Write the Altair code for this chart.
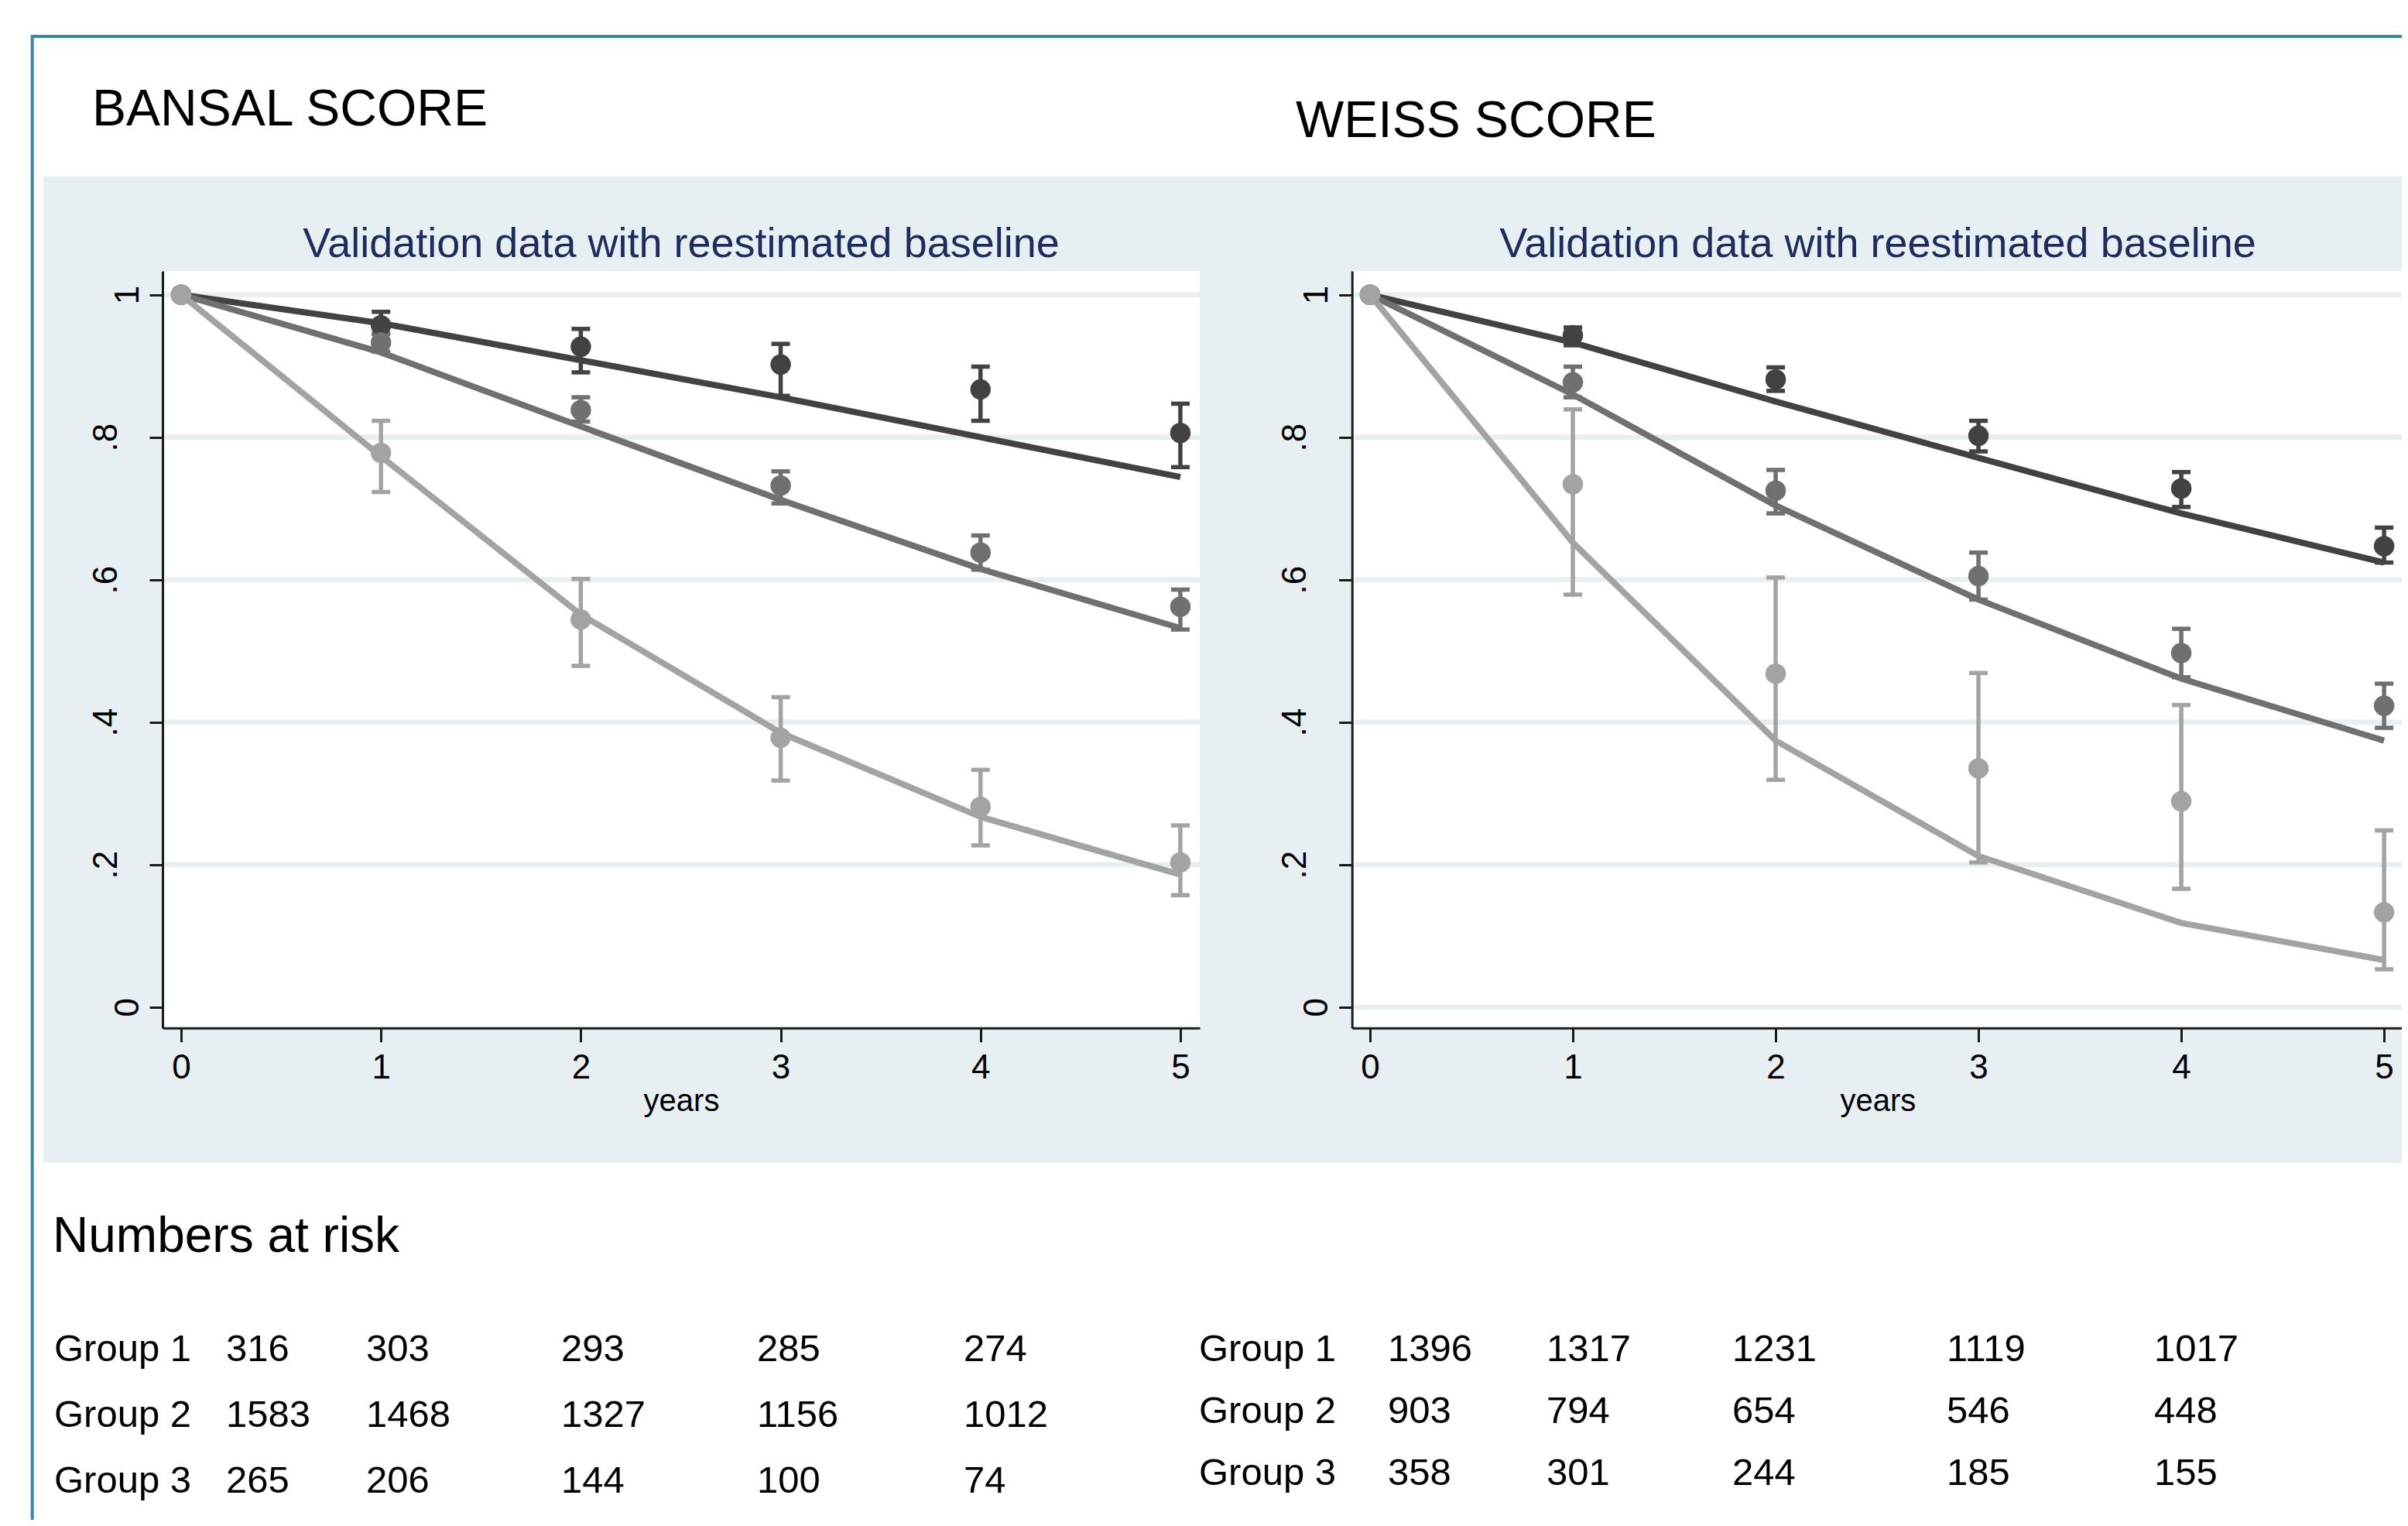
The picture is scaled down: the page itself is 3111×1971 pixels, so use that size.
import altair as alt
import pandas as pd

FONT = "Liberation Sans"

# ---------------- data ----------------
years = [0, 1, 2, 3, 4, 5]
groups = ["Group 1", "Group 2", "Group 3"]

# BANSAL SCORE: predicted survival (lines)
bansal_pred_g1 = [1.0, 0.960, 0.908, 0.856, 0.800, 0.744]
bansal_pred_g2 = [1.0, 0.919, 0.815, 0.712, 0.615, 0.532]
bansal_pred_g3 = [1.0, 0.773, 0.551, 0.385, 0.267, 0.186]
# observed (points) with 95% CI
bansal_obs_g1 = [1.0, 0.957, 0.927, 0.902, 0.867, 0.806]
bansal_lo_g1 = [None, 0.945, 0.891, 0.858, 0.823, 0.758]
bansal_hi_g1 = [None, 0.976, 0.952, 0.931, 0.899, 0.847]
bansal_obs_g2 = [1.0, 0.933, 0.838, 0.732, 0.638, 0.562]
bansal_lo_g2 = [None, 0.920, 0.822, 0.707, 0.614, 0.530]
bansal_hi_g2 = [None, 0.945, 0.856, 0.752, 0.662, 0.586]
bansal_obs_g3 = [1.0, 0.778, 0.544, 0.378, 0.281, 0.203]
bansal_lo_g3 = [None, 0.723, 0.479, 0.318, 0.227, 0.157]
bansal_hi_g3 = [None, 0.823, 0.601, 0.435, 0.333, 0.255]

# WEISS SCORE
weiss_pred_g1 = [1.0, 0.933, 0.850, 0.771, 0.693, 0.624]
weiss_pred_g2 = [1.0, 0.860, 0.704, 0.572, 0.461, 0.374]
weiss_pred_g3 = [1.0, 0.652, 0.374, 0.212, 0.118, 0.066]
weiss_obs_g1 = [1.0, 0.943, 0.881, 0.802, 0.728, 0.647]
weiss_lo_g1 = [None, 0.929, 0.865, 0.780, 0.702, 0.624]
weiss_hi_g1 = [None, 0.954, 0.898, 0.823, 0.751, 0.673]
weiss_obs_g2 = [1.0, 0.877, 0.725, 0.605, 0.497, 0.423]
weiss_lo_g2 = [None, 0.856, 0.693, 0.572, 0.463, 0.392]
weiss_hi_g2 = [None, 0.899, 0.754, 0.638, 0.531, 0.454]
weiss_obs_g3 = [1.0, 0.734, 0.468, 0.335, 0.289, 0.133]
weiss_lo_g3 = [None, 0.579, 0.319, 0.203, 0.166, 0.053]
weiss_hi_g3 = [None, 0.839, 0.603, 0.469, 0.424, 0.248]

y_ticks = [0, 0.2, 0.4, 0.6, 0.8, 1.0]

# numbers at risk
risk_cols = [0, 1, 2, 3, 4]
bansal_risk_g1 = [316, 303, 293, 285, 274]
bansal_risk_g2 = [1583, 1468, 1327, 1156, 1012]
bansal_risk_g3 = [265, 206, 144, 100, 74]
weiss_risk_g1 = [1396, 1317, 1231, 1119, 1017]
weiss_risk_g2 = [903, 794, 654, 546, 448]
weiss_risk_g3 = [358, 301, 244, 185, 155]

# ---------------- styling ----------------
W, H = 3095, 1955
def P(v):  # page pixel -> chart pixel
    return v - 8

GROUP_COLORS = ["#424242", "#707070", "#a3a3a3"]
PANEL_BG = "#e8eff2"
GRID = "#e8eff2"
NAVY = "#1c2c5c"
TEAL = "#3a86a3"
AXIS_C = "#1a1a1a"


def make_frames(pred, obs, lo, hi):
    pr, ob, eb = [], [], []
    for g, p_, o_, l_, h_ in zip(groups, pred, obs, lo, hi):
        for i, yr in enumerate(years):
            pr.append({"year": yr, "surv": p_[i], "group": g})
            ob.append({"year": yr, "obs": o_[i], "group": g})
            if l_[i] is not None:
                eb.append({"year": yr, "lo": l_[i], "hi": h_[i], "group": g})
    return pd.DataFrame(pr), pd.DataFrame(ob), pd.DataFrame(eb)


def panel_layers(pred, obs, lo, hi, xdom, xrng, grid_vals):
    dpred, dobs, deb = make_frames(pred, obs, lo, hi)
    xs = alt.Scale(domain=xdom, range=xrng, zero=False, nice=False)
    ys = alt.Scale(domain=[-0.0293, 1.0333], range=[P(1327.7), P(350)],
                   zero=False, nice=False)
    cs = alt.Scale(domain=groups, range=GROUP_COLORS)

    xaxis = alt.Axis(orient="bottom", offset=P(1327.7) - H, values=years,
                     format="d", grid=False, labelFlush=False, zindex=1,
                     labelFontSize=44, labelFont=FONT, labelColor="black",
                     labelPadding=12, tickSize=18, tickWidth=3,
                     tickColor=AXIS_C, domainWidth=3, domainColor=AXIS_C,
                     title="years", titleFont=FONT, titleFontSize=40,
                     titleFontWeight="normal", titleColor="black",
                     titleBaseline="alphabetic", titleY=107)
    yaxis = alt.Axis(orient="left", offset=-xrng[0], values=y_ticks,
                     labelExpr="datum.value == 1 ? '1' : datum.value == 0 ? '0' : replace(format(datum.value, '.1f'), '0.', '.')",
                     grid=False, labelFlush=False, labelAngle=270, zindex=1,
                     labelAlign="center", labelBaseline="alphabetic",
                     labelFontSize=44, labelFont=FONT, labelColor="black",
                     labelPadding={"condition": {"test": "datum.value == 0 || datum.value == 1",
                                                 "value": 15},
                                   "value": 43},
                     tickSize=17, tickWidth=3,
                     tickColor=AXIS_C, domainWidth=3, domainColor=AXIS_C,
                     title=None)

    white = alt.Chart(pd.DataFrame({"a": [0]})).mark_rect(color="white").encode(
        x=alt.value(xrng[0]), x2=alt.value(xrng[1]),
        y=alt.value(P(350)), y2=alt.value(P(1327.7)))

    grid = alt.Chart(pd.DataFrame({"v": grid_vals})).mark_rule(
        color=GRID, strokeWidth=7).encode(
        y=alt.Y("v:Q", scale=ys, axis=None),
        x=alt.value(xrng[0] + 2), x2=alt.value(xrng[1]))

    lines = alt.Chart(dpred).mark_line(strokeWidth=8).encode(
        x=alt.X("year:Q", scale=xs, axis=xaxis),
        y=alt.Y("surv:Q", scale=ys, axis=yaxis),
        color=alt.Color("group:N", scale=cs, legend=None))

    bars = alt.Chart(deb).mark_rule(strokeWidth=5.5).encode(
        x=alt.X("year:Q", scale=xs, axis=None),
        y=alt.Y("lo:Q", scale=ys, axis=None), y2="hi:Q",
        color=alt.Color("group:N", scale=cs, legend=None))
    cap_lo = alt.Chart(deb).mark_tick(orient="horizontal", size=24,
                                      thickness=5.5, opacity=1).encode(
        x=alt.X("year:Q", scale=xs, axis=None),
        y=alt.Y("lo:Q", scale=ys, axis=None),
        color=alt.Color("group:N", scale=cs, legend=None))
    cap_hi = alt.Chart(deb).mark_tick(orient="horizontal", size=24,
                                      thickness=5.5, opacity=1).encode(
        x=alt.X("year:Q", scale=xs, axis=None),
        y=alt.Y("hi:Q", scale=ys, axis=None),
        color=alt.Color("group:N", scale=cs, legend=None))
    pts = alt.Chart(dobs).mark_circle(size=700, opacity=1).encode(
        x=alt.X("year:Q", scale=xs, axis=None),
        y=alt.Y("obs:Q", scale=ys, axis=None),
        color=alt.Color("group:N", scale=cs, legend=None))
    return [white, grid, lines, bars, cap_lo, cap_hi, pts]


left = panel_layers([bansal_pred_g1, bansal_pred_g2, bansal_pred_g3],
                    [bansal_obs_g1, bansal_obs_g2, bansal_obs_g3],
                    [bansal_lo_g1, bansal_lo_g2, bansal_lo_g3],
                    [bansal_hi_g1, bansal_hi_g2, bansal_hi_g3],
                    [-0.093, 5.097], [P(210), P(1550)],
                    [0.2, 0.4, 0.6, 0.8, 1.0])
right = panel_layers([weiss_pred_g1, weiss_pred_g2, weiss_pred_g3],
                     [weiss_obs_g1, weiss_obs_g2, weiss_obs_g3],
                     [weiss_lo_g1, weiss_lo_g2, weiss_lo_g3],
                     [weiss_hi_g1, weiss_hi_g2, weiss_hi_g3],
                     [-0.089, 5.095], [P(1746.7), P(3105)],
                     [0.0, 0.2, 0.4, 0.6, 0.8, 1.0])


def text_at(txt, x, y, size, color="black", align="left"):
    return alt.Chart(pd.DataFrame({"t": [txt]})).mark_text(
        align=align, baseline="alphabetic", fontSize=size, font=FONT,
        color=color).encode(text="t:N", x=alt.value(x), y=alt.value(y))


def risk_table(rows, xpos, ypos):
    recs = []
    for r, (g, vals) in enumerate(zip(groups, rows)):
        recs.append({"col": 0, "row": r, "label": g})
        for c, v in zip(risk_cols, vals):
            recs.append({"col": c + 1, "row": r, "label": str(v)})
    return alt.Chart(pd.DataFrame(recs)).mark_text(
        align="left", baseline="alphabetic", fontSize=49, font=FONT,
        color="black").encode(
        x=alt.X("col:Q", scale=alt.Scale(domain=[0, 1, 2, 3, 4, 5],
                                         range=[P(v) for v in xpos],
                                         zero=False, nice=False), axis=None),
        y=alt.Y("row:Q", scale=alt.Scale(domain=[0, 1, 2],
                                         range=[P(v) for v in ypos],
                                         zero=False, nice=False), axis=None),
        text="label:N")


bg = alt.Chart(pd.DataFrame({"a": [0]})).mark_rect(color=PANEL_BG).encode(
    x=alt.value(P(56)), x2=alt.value(W + 50),
    y=alt.value(P(228)), y2=alt.value(P(1502)))
frame = alt.Chart(pd.DataFrame({"a": [0]})).mark_rect(
    fillOpacity=0, stroke=TEAL, strokeWidth=4).encode(
    x=alt.value(P(41.7)), x2=alt.value(W + 100),
    y=alt.value(P(47)), y2=alt.value(H + 100))

t1 = text_at("BANSAL SCORE", P(119), P(162), 66)
t2 = text_at("WEISS SCORE", P(1674), P(177), 66)
s1 = text_at("Validation data with reestimated baseline", P(880), P(332), 54, NAVY, "center")
s2 = text_at("Validation data with reestimated baseline", P(2426), P(332), 54, NAVY, "center")
nr = text_at("Numbers at risk", P(68), P(1617), 64)

tab_l = risk_table([bansal_risk_g1, bansal_risk_g2, bansal_risk_g3],
                   [70, 292, 473, 725, 978, 1245], [1758, 1843, 1928])
tab_r = risk_table([weiss_risk_g1, weiss_risk_g2, weiss_risk_g3],
                   [1549, 1793, 1998, 2238, 2515, 2783], [1758, 1838, 1918])

chart = alt.layer(bg, frame, *left, *right, t1, t2, s1, s2, nr, tab_l, tab_r).resolve_scale(
    x="independent", y="independent", color="independent"
).resolve_axis(x="independent", y="independent").properties(
    width=W, height=H, autosize=alt.AutoSizeParams(type="none"), padding=0,
    background="white"
).configure_view(strokeWidth=0)

chart.save("out.html", embed_options={"renderer": "svg", "actions": False})
